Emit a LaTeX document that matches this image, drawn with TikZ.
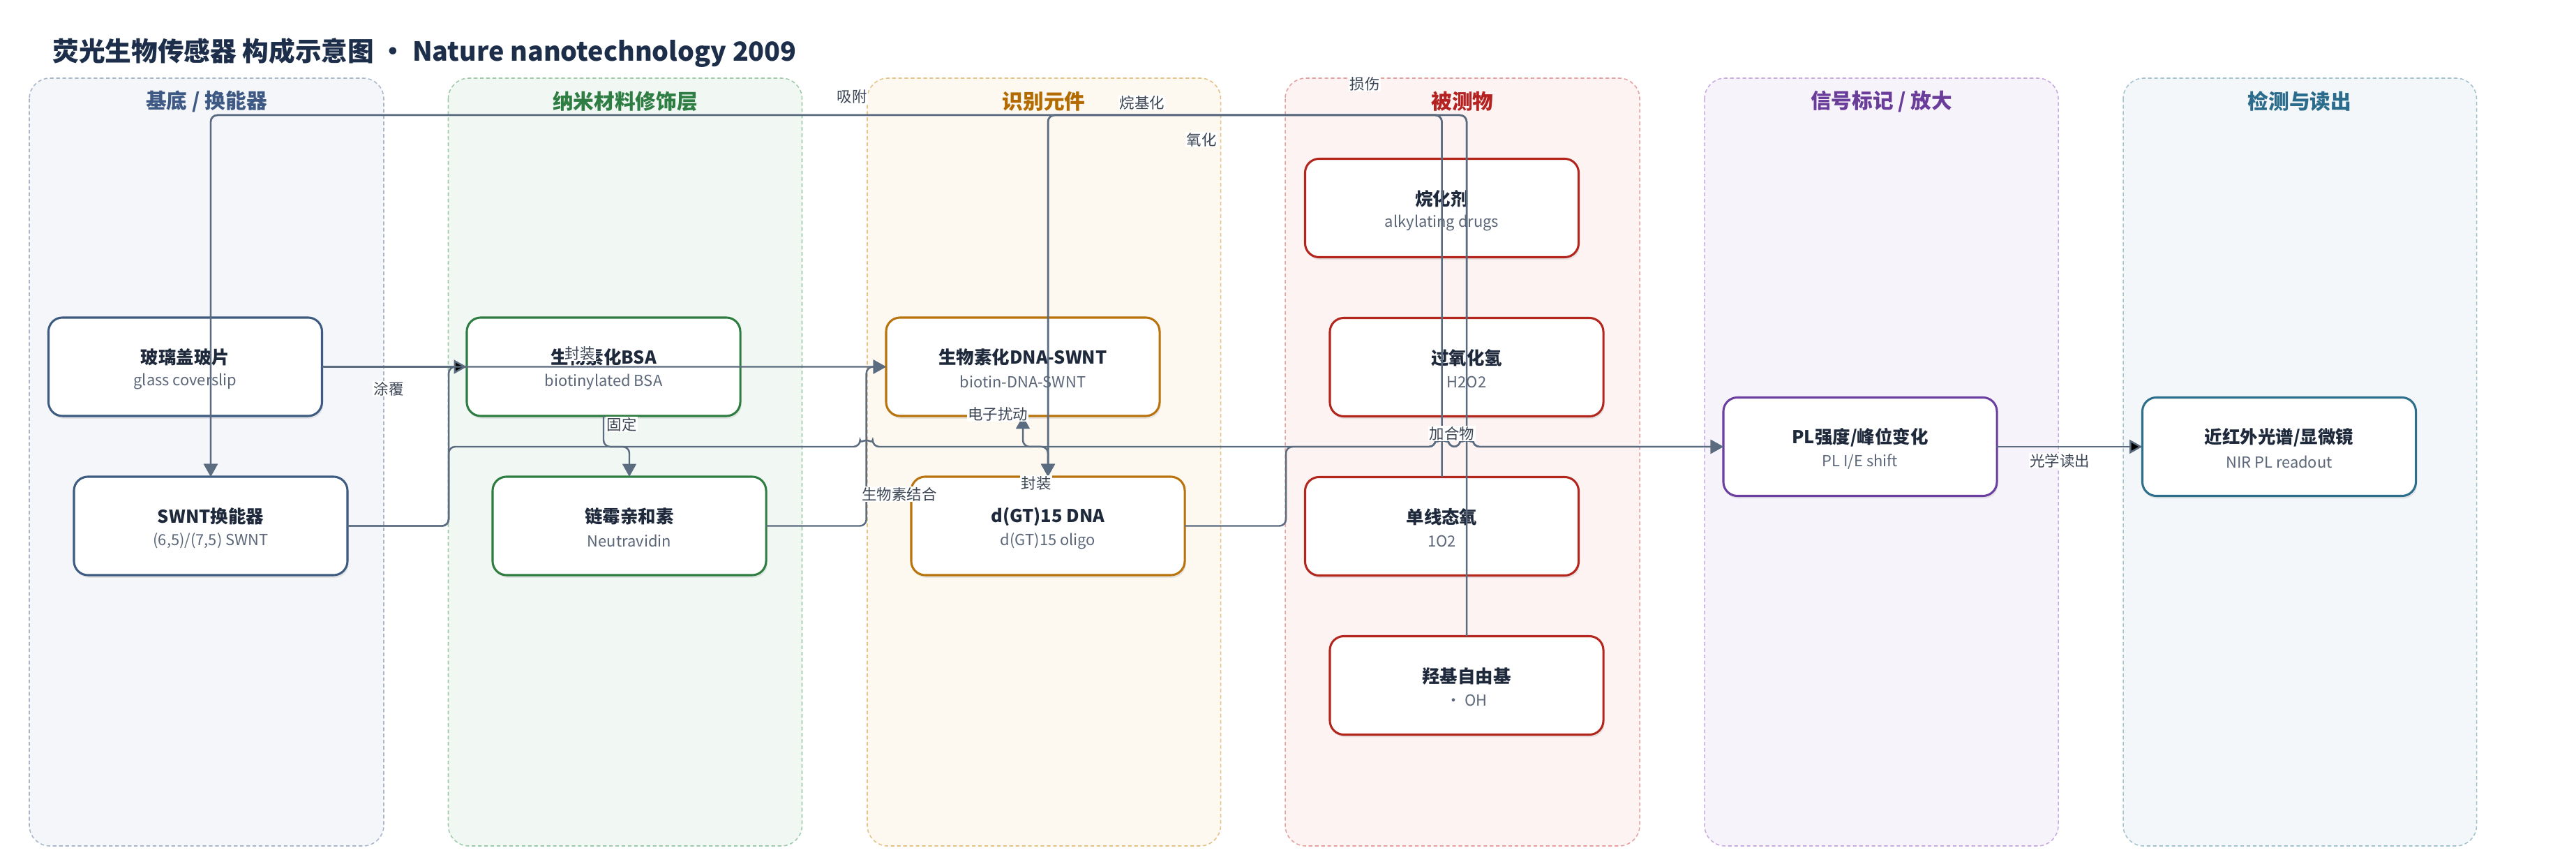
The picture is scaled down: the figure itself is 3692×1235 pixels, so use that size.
\documentclass[tikz,border=0pt]{standalone}
\usepackage{fontspec}
\setmainfont{Noto Sans CJK SC}
\usetikzlibrary{arrows.meta,shadows,positioning}

\definecolor{edgegray}{HTML}{5B6B80}
\definecolor{titlenavy}{HTML}{1C2E4A}
\definecolor{inkdark}{HTML}{1E293B}
\definecolor{subgray}{HTML}{5B6678}
\definecolor{labelgray}{HTML}{3A4453}
% lanes: fill / border / title / block border
\definecolor{laneAf}{HTML}{F4F6FA}\definecolor{laneAb}{HTML}{A9B6CB}\definecolor{laneAt}{HTML}{3E5A84}\definecolor{nodeA}{HTML}{3D5A80}
\definecolor{laneBf}{HTML}{F1F8F3}\definecolor{laneBb}{HTML}{9DCBAA}\definecolor{laneBt}{HTML}{2E7D43}\definecolor{nodeB}{HTML}{2E7D40}
\definecolor{laneCf}{HTML}{FDF8F0}\definecolor{laneCb}{HTML}{E5C285}\definecolor{laneCt}{HTML}{B36B00}\definecolor{nodeC}{HTML}{B8730C}
\definecolor{laneDf}{HTML}{FDF3F2}\definecolor{laneDb}{HTML}{E6A0A0}\definecolor{laneDt}{HTML}{B52222}\definecolor{nodeD}{HTML}{B3261E}
\definecolor{laneEf}{HTML}{F7F3FB}\definecolor{laneEb}{HTML}{C8ABE0}\definecolor{laneEt}{HTML}{6A3D9A}\definecolor{nodeE}{HTML}{6B3FA0}
\definecolor{laneFf}{HTML}{F3F7F9}\definecolor{laneFb}{HTML}{A3C3CF}\definecolor{laneFt}{HTML}{2B6C8C}\definecolor{nodeF}{HTML}{2D6E8A}

% block: name, x, y, colour, title, subtitle
\newcommand{\bioblock}[6]{%
  \node[block node=#4] (#1) at (#2,#3) {};
  \node[block title] (#1-t) at ([yshift=5.7pt]#1.center) {#5};
  \node[block sub] (#1-s) at ([yshift=-9.1pt]#1.center) {#6};}

\begin{document}
\begin{tikzpicture}[x=0.4247pt,y=-0.4247pt,>={Triangle[length=7.8pt,width=8.4pt]},
    flow/.style={->,draw=edgegray,line width=1.05pt,rounded corners=4pt},
    lane box/.style={draw=#1,dash pattern=on 2.2pt off 1.6pt,line width=0.65pt,rounded corners=12.5pt},
    lane title/.style={font=\fontsize{12.6}{15}\selectfont\bfseries,text=#1,inner sep=0pt},
    block node/.style={draw=#1,fill=white,line width=1.3pt,rounded corners=8.5pt,minimum width=166.5pt,
      minimum height=59.9pt,outer sep=0pt,drop shadow={opacity=0.16,shadow xshift=0.7pt,shadow yshift=-1.6pt}},
    block title/.style={font=\fontsize{10.8}{13}\selectfont\bfseries,text=inkdark,inner sep=0pt},
    block sub/.style={font=\fontsize{9.3}{11}\selectfont,text=subgray,inner sep=0pt},
    edge label/.style={font=\fontsize{9.1}{11}\selectfont,text=labelgray,fill=white,inner sep=0.6pt}]
  \fill[white] (0,0) rectangle (3692,1235);
  \useasboundingbox (0,0) rectangle (3692,1235);

  \node[anchor=west,font=\fontsize{16}{19}\selectfont\bfseries,text=titlenavy,inner sep=0pt] (title) at (75,76)
    {荧光生物传感器 构成示意图 ・ Nature nanotechnology 2009};

  % lanes
  \draw[lane box=laneAb,fill=laneAf] (42,112) rectangle (550,1212);
  \draw[lane box=laneBb,fill=laneBf] (642.5,112) rectangle (1149.5,1212);
  \draw[lane box=laneCb,fill=laneCf] (1243,112) rectangle (1749.5,1212);
  \draw[lane box=laneDb,fill=laneDf] (1842,112) rectangle (2350,1212);
  \draw[lane box=laneEb,fill=laneEf] (2443,112) rectangle (2950,1212);
  \draw[lane box=laneFb,fill=laneFf] (3043,112) rectangle (3549.5,1212);
  \node[lane title=laneAt] (lane-a) at (296,145) {基底 / 换能器};
  \node[lane title=laneBt] (lane-b) at (896,145) {纳米材料修饰层};
  \node[lane title=laneCt] (lane-c) at (1496,145) {识别元件};
  \node[lane title=laneDt] (lane-d) at (2096,145) {被测物};
  \node[lane title=laneEt] (lane-e) at (2696.5,145) {信号标记 / 放大};
  \node[lane title=laneFt] (lane-f) at (3296,145) {检测与读出};

  % blocks
  \bioblock{cover}{265.5}{525.5}{nodeA}{玻璃盖玻片}{glass coverslip}
  \bioblock{swnt}{302}{753.5}{nodeA}{SWNT换能器}{(6,5)/(7,5) SWNT}
  \bioblock{bsa}{865}{525.5}{nodeB}{生物素化BSA}{biotinylated BSA}
  \bioblock{neut}{902}{753.5}{nodeB}{链霉亲和素}{Neutravidin}
  \bioblock{dnaswnt}{1466}{525.5}{nodeC}{生物素化DNA-SWNT}{biotin-DNA-SWNT}
  \bioblock{dgt}{1502}{753.5}{nodeC}{d(GT)15 DNA}{d(GT)15 oligo}
  \bioblock{alk}{2066.5}{298}{nodeD}{烷化剂}{alkylating drugs}
  \bioblock{hoo}{2102}{526}{nodeD}{过氧化氢}{H2O2}
  \bioblock{singlet}{2066.5}{754}{nodeD}{单线态氧}{1O2}
  \bioblock{hydroxyl}{2102}{982}{nodeD}{羟基自由基}{· OH}
  \bioblock{pl}{2666}{640}{nodeE}{PL强度/峰位变化}{PL I/E shift}
  \bioblock{nir}{3266.5}{640}{nodeF}{近红外光谱/显微镜}{NIR PL readout}

  % connectors
  \path[flow] (cover) edge (bsa);
  \draw[flow] (swnt.east) -- ++(145,0) |- (dnaswnt.west);
  \draw[flow] (bsa.south) -- ++(0,44) -| (neut.north);
  \draw[flow] (neut.east) -- ++(143.7,0) |- (dnaswnt.west);
  \draw[flow] (dgt.north) -- ++(0,-43) -| (dnaswnt.south);
  \draw[flow] (swnt.east) -- ++(145,0) |- (1232.7,640) arc[start angle=180,end angle=360,radius=9]
    -- (2057.5,640) arc[start angle=180,end angle=360,radius=9]
    -- (2093,640) arc[start angle=180,end angle=360,radius=9] -- (pl.west);
  \draw[flow] (dgt.east) -- ++(145,0) |- (2057.5,640) arc[start angle=180,end angle=360,radius=9]
    -- (2093,640) arc[start angle=180,end angle=360,radius=9] -- (pl.west);
  \path[flow] (pl) edge (nir);
  \draw[flow] (alk.north) -- ++(0,-62.5) -| (dgt.north);
  \draw[flow] (singlet.north) -- ++(0,-518.5) -| (dgt.north);
  \draw[flow] (hoo.north) -- ++(0,-290.5) -| (swnt.north);
  \draw[flow] (hydroxyl.north) -- ++(0,-746.5) -| (swnt.north);

  % connector labels
  \node[edge label] (l-tufu) at (557,557) {涂覆};
  \node[edge label] (l-fengzhuang-a) at (831,506) {封装};
  \node[edge label] (l-guding) at (891,608) {固定};
  \node[edge label] (l-jiehe) at (1289,708) {生物素结合};
  \node[edge label] (l-raodong) at (1430,593) {电子扰动};
  \node[edge label] (l-fengzhuang-b) at (1485,692) {封装};
  \node[edge label] (l-jiahewu) at (2081,621) {加合物};
  \node[edge label] (l-duchu) at (2952,660) {光学读出};
  \node[edge label] (l-wanjihua) at (1637,147) {烷基化};
  \node[edge label] (l-yanghua) at (1722,200) {氧化};
  \node[edge label] (l-sunshang) at (1956,120) {损伤};
  \node[edge label] (l-xifu) at (1221,138) {吸附};
\end{tikzpicture}
\end{document}
